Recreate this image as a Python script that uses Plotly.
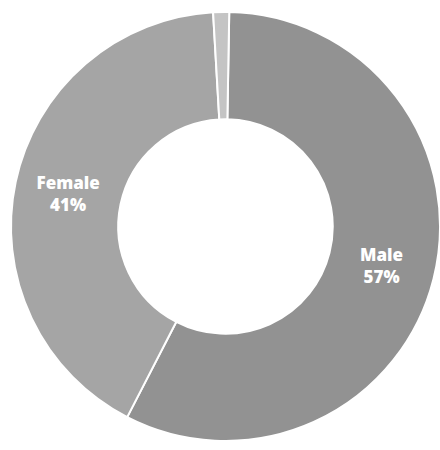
import plotly.graph_objects as go

labels = ["Male", "Female", "Other"]
values = [57.3, 41.5, 1.2]
colors = ["#929292", "#a5a5a5", "#c4c4c4"]
texts = ["Male<br>57%", "Female<br>41%", ""]

fig = go.Figure(go.Pie(
    labels=labels,
    values=values,
    text=texts,
    textinfo="text",
    hole=0.5,
    sort=False,
    direction="clockwise",
    rotation=1,
    marker=dict(colors=colors, line=dict(color="white", width=2)),
    textposition="inside",
    insidetextorientation="horizontal",
    textfont=dict(family="Open Sans", size=17, color="white", weight=800),
    showlegend=False,
))

fig.update_layout(
    width=440, height=450,
    margin=dict(l=11, r=0, t=12, b=9),
    paper_bgcolor="white",
    plot_bgcolor="white",
)

fig.write_html(
    "out.html",
    config={"displayModeBar": False},
    post_script="document.body.style.margin='0';document.body.style.overflow='hidden';",
)
